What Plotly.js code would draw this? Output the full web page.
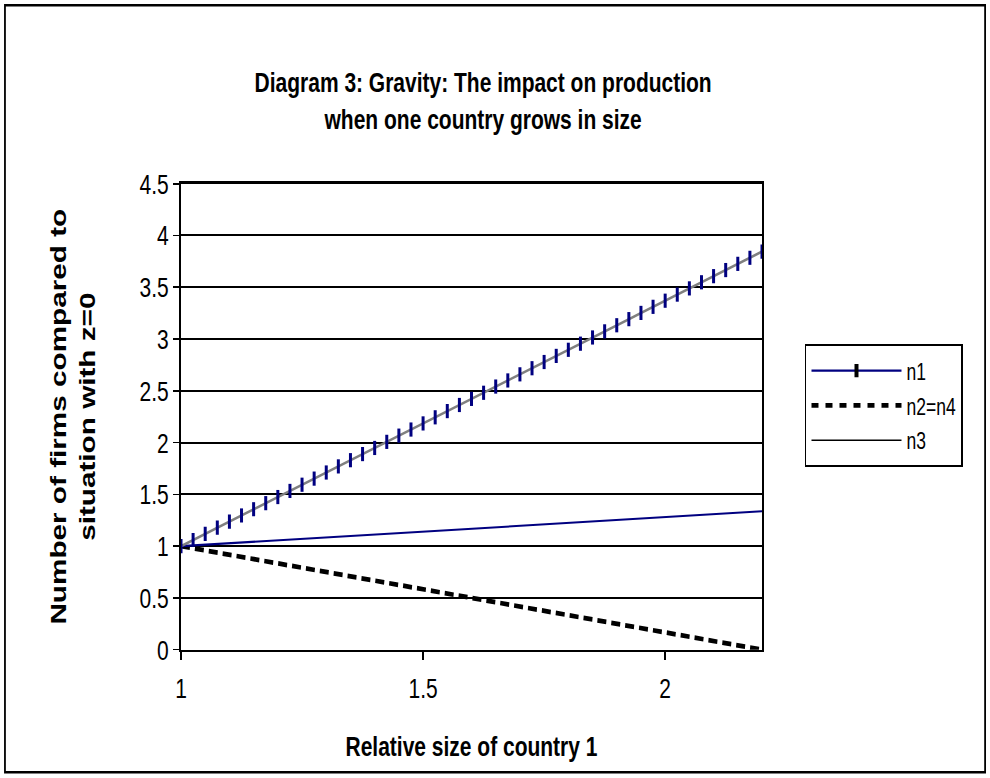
<!DOCTYPE html>
<html>
<head>
<meta charset="utf-8">
<script src="https://cdn.plot.ly/plotly-3.0.1.min.js"></script>
<style>
  html, body { margin: 0; padding: 0; background: #fff; overflow: hidden; }
  #wrap { width: 990px; height: 778px; position: relative; overflow: hidden; }
  /* the reference chart is stretched vertically; render at reduced height and stretch */
  #chart { width: 990px; height: 576px; transform: scaleY(1.3507); transform-origin: 0 0; }
</style>
</head>
<body>
<div id="wrap"><div id="chart"></div></div>
<script>
// Relative size of country 1
const relSize = [1.000, 1.025, 1.050, 1.075, 1.100, 1.125, 1.150, 1.175, 1.200, 1.225,
  1.250, 1.275, 1.300, 1.325, 1.350, 1.375, 1.400, 1.425, 1.450, 1.475,
  1.500, 1.525, 1.550, 1.575, 1.600, 1.625, 1.650, 1.675, 1.700, 1.725,
  1.750, 1.775, 1.800, 1.825, 1.850, 1.875, 1.900, 1.925, 1.950, 1.975,
  2.000, 2.025, 2.050, 2.075, 2.100, 2.125, 2.150, 2.175, 2.200];

const n1 = [1.000, 1.059, 1.119, 1.178, 1.237, 1.296, 1.356, 1.415, 1.474, 1.533,
  1.593, 1.652, 1.711, 1.770, 1.830, 1.889, 1.948, 2.007, 2.067, 2.126,
  2.185, 2.244, 2.304, 2.363, 2.422, 2.481, 2.541, 2.600, 2.659, 2.718,
  2.778, 2.837, 2.896, 2.955, 3.015, 3.074, 3.133, 3.192, 3.252, 3.311,
  3.370, 3.429, 3.489, 3.548, 3.607, 3.666, 3.726, 3.785, 3.844];

const n2n4 = [1.000, 0.979, 0.958, 0.938, 0.917, 0.896, 0.875, 0.854, 0.833, 0.813,
  0.792, 0.771, 0.750, 0.729, 0.708, 0.688, 0.667, 0.646, 0.625, 0.604,
  0.583, 0.563, 0.542, 0.521, 0.500, 0.479, 0.458, 0.438, 0.417, 0.396,
  0.375, 0.354, 0.333, 0.313, 0.292, 0.271, 0.250, 0.229, 0.208, 0.188,
  0.167, 0.146, 0.125, 0.104, 0.083, 0.063, 0.042, 0.021, 0.000];

const n3 = [1.000, 1.007, 1.014, 1.021, 1.028, 1.035, 1.042, 1.049, 1.056, 1.063,
  1.070, 1.077, 1.084, 1.091, 1.098, 1.105, 1.112, 1.119, 1.126, 1.133,
  1.140, 1.147, 1.154, 1.161, 1.168, 1.175, 1.182, 1.189, 1.196, 1.203,
  1.210, 1.217, 1.224, 1.231, 1.238, 1.245, 1.252, 1.259, 1.266, 1.273,
  1.280, 1.287, 1.294, 1.301, 1.308, 1.315, 1.322, 1.329, 1.336];

const seriesNames = ['n1', 'n2=n4', 'n3'];
const yTickVals = [0, 0.5, 1, 1.5, 2, 2.5, 3, 3.5, 4, 4.5];
const yTickText = ['0', '0.5', '1', '1.5', '2', '2.5', '3', '3.5', '4', '4.5'];
const xTickVals = [1, 1.5, 2];
const xTickText = ['1', '1.5', '2'];

const FONT = 'Arial, "Liberation Sans", sans-serif';
const NAVY = '#000080';

const traces = [
  { x: relSize, y: n2n4, name: seriesNames[1], type: 'scatter', mode: 'lines', showlegend: false,
    line: { color: '#000000', width: 3.5, dash: '9px,5px' } },
  { x: relSize, y: n3, name: seriesNames[2], type: 'scatter', mode: 'lines', showlegend: false,
    line: { color: NAVY, width: 1.5 } },
  { x: relSize, y: n1, name: seriesNames[0], type: 'scatter', mode: 'lines+markers', showlegend: false,
    line: { color: '#808080', width: 2 },
    marker: { symbol: 'line-ns', size: 7.5, color: NAVY, line: { color: NAVY, width: 3 } } },
  // legend entries
  { x: [null], y: [null], name: seriesNames[0], type: 'scatter', mode: 'lines+markers',
    line: { color: NAVY, width: 1.5 },
    marker: { symbol: 'line-ns', size: 7, color: '#000000', line: { color: '#000000', width: 4 } } },
  { x: [null], y: [null], name: seriesNames[1], type: 'scatter', mode: 'lines',
    line: { color: '#000000', width: 3.5, dash: '7px,7px' } },
  { x: [null], y: [null], name: seriesNames[2], type: 'scatter', mode: 'lines',
    line: { color: '#000000', width: 1.2 } }
];

const layout = {
  width: 990, height: 576,
  paper_bgcolor: '#ffffff', plot_bgcolor: '#ffffff',
  font: { family: FONT, size: 21, color: '#000000' },
  margin: { l: 181, r: 228, t: 135.5, b: 94.8, pad: 0 },
  title: {
    text: '<b>Diagram 3: Gravity: The impact on production<br>when one country grows in size</b>',
    font: { family: FONT, size: 21, color: '#000000' },
    x: 0.488, xref: 'container', xanchor: 'center',
    y: 0.882, yref: 'container', yanchor: 'middle'
  },
  xaxis: {
    range: [1, 2.2], tickvals: xTickVals, ticktext: xTickText,
    showgrid: false, zeroline: false,
    showline: true, linecolor: '#000000', linewidth: 1.7, mirror: true,
    ticks: 'outside', ticklen: 6, tickwidth: 1.5, tickcolor: '#000000',
    ticklabelstandoff: 3,
    tickfont: { family: FONT, size: 21 },
    title: { text: '<b>Relative size of country 1</b>', font: { family: FONT, size: 21 }, standoff: 25 }
  },
  yaxis: {
    range: [0, 4.5], tickvals: yTickVals, ticktext: yTickText,
    showgrid: true, gridcolor: '#000000', gridwidth: 1.5, zeroline: false,
    showline: true, linecolor: '#000000', linewidth: 2, mirror: true,
    ticks: 'outside', ticklen: 6, tickwidth: 1.2, tickcolor: '#000000',
    tickfont: { family: FONT, size: 21 },
    title: { text: '<b>Number of firms compared to<br>situation with z=0</b>', font: { family: FONT, size: 22 }, standoff: 38 }
  },
  legend: {
    x: 1.074, xanchor: 'left', y: 0.655, yanchor: 'top',
    bgcolor: '#ffffff', bordercolor: '#000000', borderwidth: 1.5,
    font: { family: FONT, size: 17.5, color: '#000000' },
    tracegroupgap: 0, itemwidth: 90
  },
  shapes: [{
    type: 'rect', xref: 'paper', yref: 'paper',
    x0: -0.303, x1: 1.384, y0: -0.263, y1: 1.383,
    line: { color: '#000000', width: 1.8 }, fillcolor: 'rgba(0,0,0,0)', layer: 'below'
  }],
  showlegend: true
};

Plotly.newPlot('chart', traces, layout, { staticPlot: true, displayModeBar: false });
</script>
</body>
</html>
